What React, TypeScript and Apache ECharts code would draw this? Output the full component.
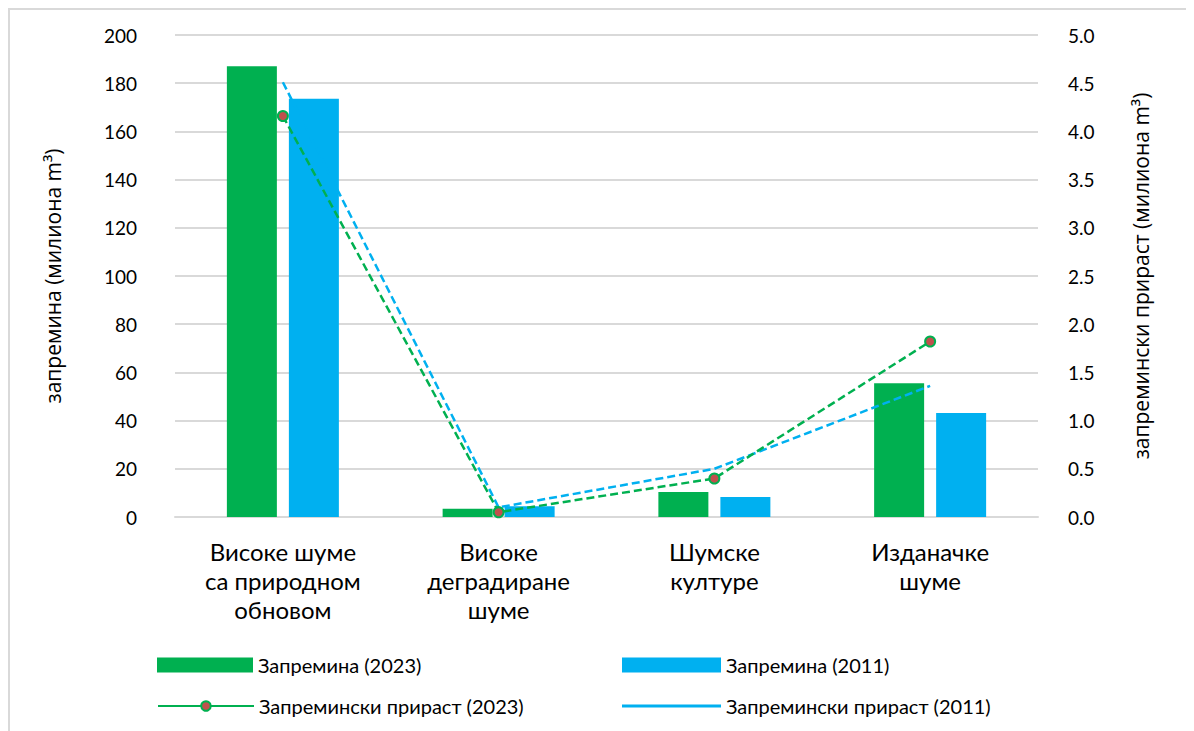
import React, { useEffect, useRef } from "react";
import * as echarts from "echarts";

const categories = [
  "Високе шуме\nса природном\nобновом",
  "Високе\nдеградиране\nшуме",
  "Шумске\nкултуре",
  "Изданачке\nшуме",
];
const volume2023 = [187, 3.4, 10.4, 55.5];
const volume2011 = [173.5, 4.5, 8.3, 43.2];
const increment2023 = [4.16, 0.05, 0.4, 1.82];
const increment2011 = [4.51, 0.1, 0.5, 1.36];

const GREEN = "#00B050";
const BLUE = "#00B0F0";
const FONT = "Lato, 'Open Sans', sans-serif";
const FONT2 = "'Open Sans', Lato, sans-serif";

export default function App() {
  const ref = useRef<HTMLDivElement>(null);
  useEffect(() => {
    if (!ref.current) return;
    const chart = echarts.init(ref.current, undefined, { renderer: "svg" });
    const legendText = { fontFamily: FONT, fontSize: 20, color: "#000" };
    chart.setOption({
      animation: false,
      textStyle: { fontFamily: FONT },
      graphic: [
        {
          type: "rect",
          shape: { x: 1, y: 1, width: 1400, height: 1000 },
          style: { fill: "none", stroke: "#d9d9d9", lineWidth: 2 },
          silent: true,
        },
      ],
      grid: { left: 167, right: 156, top: 27, bottom: 214 },
      legend: [
        {
          left: 144, top: 642, itemWidth: 96, itemHeight: 15, icon: "rect",
          textStyle: legendText,
          data: [{ name: "Запремина (2023)" }],
        },
        {
          left: 609, top: 642, itemWidth: 99, itemHeight: 15, icon: "rect",
          textStyle: legendText,
          data: [{ name: "Запремина (2011)" }],
        },
        {
          left: 144, top: 683, itemWidth: 96, itemHeight: 12,
          textStyle: legendText,
          data: [{ name: "Запремински прираст (2023)", lineStyle: { type: "solid" } }],
        },
        {
          left: 609, top: 683, itemWidth: 99, itemHeight: 3, icon: "rect",
          textStyle: legendText,
          data: [{ name: "Запремински прираст (2011)" }],
        },
      ],
      xAxis: {
        type: "category",
        data: categories,
        axisTick: { show: false },
        axisLine: { show: true, lineStyle: { color: "#d9d9d9", width: 2 } },
        axisLabel: {
          interval: 0,
          hideOverlap: false,
          margin: 20,
          fontSize: 24,
          lineHeight: 29,
          color: "#000",
          fontFamily: FONT,
        },
      },
      yAxis: [
        {
          type: "value",
          min: 0,
          max: 200,
          interval: 20,
          name: "запремина (милиона m³)",
          nameLocation: "middle",
          nameRotate: 90,
          nameGap: 112,
          nameTextStyle: { fontSize: 21, color: "#000", fontFamily: FONT2 },
          axisLabel: { margin: 38, fontSize: 19, color: "#000", fontFamily: FONT },
          splitLine: { lineStyle: { color: "#d9d9d9", width: 2 } },
          axisLine: { show: false },
          axisTick: { show: false },
        },
        {
          type: "value",
          min: 0,
          max: 5,
          interval: 0.5,
          name: "запремински прираст (милиона m³)",
          nameLocation: "middle",
          nameRotate: 90,
          nameGap: 92,
          nameTextStyle: { fontSize: 21, color: "#000", fontFamily: FONT2 },
          axisLabel: {
            margin: 30,
            fontSize: 19,
            color: "#000",
            fontFamily: FONT,
            formatter: (v: number) => v.toFixed(1),
          },
          splitLine: { show: false },
          axisLine: { show: false },
          axisTick: { show: false },
        },
      ],
      series: [
        {
          name: "Запремина (2023)",
          type: "bar",
          data: volume2023,
          barWidth: 50,
          barGap: "24%",
          itemStyle: { color: GREEN },
        },
        {
          name: "Запремина (2011)",
          type: "bar",
          data: volume2011,
          barWidth: 50,
          barGap: "24%",
          itemStyle: { color: BLUE },
        },
        {
          name: "Запремински прираст (2023)",
          type: "line",
          yAxisIndex: 1,
          data: increment2023,
          symbol: "circle",
          symbolSize: 10,
          itemStyle: { color: "#C0504D", borderColor: GREEN, borderWidth: 2 },
          lineStyle: { color: GREEN, width: 2.5, type: [8, 4] },
          z: 5,
        },
        {
          name: "Запремински прираст (2011)",
          type: "line",
          yAxisIndex: 1,
          data: increment2011,
          symbol: "none",
          itemStyle: { color: BLUE },
          lineStyle: { color: BLUE, width: 2.5, type: [8, 4] },
          z: 4,
        },
      ],
    });
    return () => chart.dispose();
  }, []);
  return <div ref={ref} style={{ width: 1186, height: 723 }} />;
}
